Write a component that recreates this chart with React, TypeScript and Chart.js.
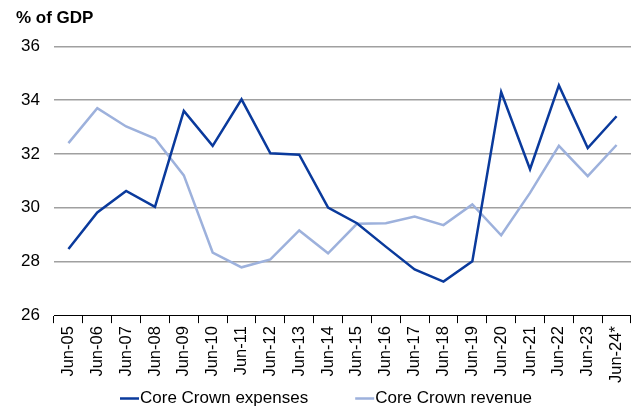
import React, { useEffect, useRef } from "react";
import { Chart, registerables } from "chart.js";

Chart.register(...registerables);

const categories = [
  "Jun-05", "Jun-06", "Jun-07", "Jun-08", "Jun-09", "Jun-10", "Jun-11", "Jun-12", "Jun-13", "Jun-14",
  "Jun-15", "Jun-16", "Jun-17", "Jun-18", "Jun-19", "Jun-20", "Jun-21", "Jun-22", "Jun-23", "Jun-24*",
];
const expenses = [
  28.46, 29.82, 30.62, 30.03, 33.6, 32.3, 34.03, 32.02, 31.97, 30.0,
  29.42, 28.55, 27.7, 27.25, 28.0, 34.3, 31.43, 34.55, 32.22, 33.4,
];
const revenue = [
  32.4, 33.7, 33.02, 32.57, 31.2, 28.33, 27.78, 28.07, 29.15, 28.3,
  29.4, 29.42, 29.67, 29.35, 30.12, 28.97, 30.55, 32.3, 31.17, 32.33,
];
const yTicks = [26, 28, 30, 32, 34, 36];

const FONT = "Liberation Sans, Arial, sans-serif";

const bottomLegend = {
  id: "bottomLegend",
  afterDraw(chart: any) {
    const ctx = chart.ctx;
    const y = 398.5;
    let x = 120;
    ctx.save();
    ctx.font = `17px ${FONT}`;
    ctx.textBaseline = "middle";
    ctx.textAlign = "left";
    chart.data.datasets.forEach((ds: any) => {
      ctx.strokeStyle = ds.borderColor;
      ctx.lineWidth = 2.5;
      ctx.beginPath();
      ctx.moveTo(x, y);
      ctx.lineTo(x + 19, y);
      ctx.stroke();
      x += 20;
      ctx.fillStyle = "#000";
      ctx.fillText(ds.label, x, y);
      x += ctx.measureText(ds.label).width + 47;
    });
    ctx.restore();
  },
};

export default function App() {
  const ref = useRef<HTMLCanvasElement | null>(null);
  useEffect(() => {
    document.body.style.margin = "0";
    const ctx = ref.current!;
    const chart = new Chart(ctx, {
      type: "line",
      data: {
        labels: categories,
        datasets: [
          {
            label: "Core Crown expenses",
            data: expenses,
            borderColor: "#0A3A9C",
            backgroundColor: "#0A3A9C",
            borderWidth: 2.5,
            pointRadius: 0,
            tension: 0,
          },
          {
            label: "Core Crown revenue",
            data: revenue,
            borderColor: "#9DB1DC",
            backgroundColor: "#9DB1DC",
            borderWidth: 2.5,
            pointRadius: 0,
            tension: 0,
          },
        ],
      },
      plugins: [bottomLegend],
      options: {
        animation: false,
        responsive: false,
        layout: { padding: { left: 16, right: 0, top: 0, bottom: 21 } },
        plugins: {
          title: {
            display: true,
            text: "% of GDP",
            align: "start",
            color: "#000",
            font: { family: FONT, size: 17, weight: "bold" },
            padding: { top: 8, bottom: 18 },
          },
          legend: { display: false },
          tooltip: { enabled: false },
        },
        scales: {
          x: {
            offset: true,
            afterFit: (scale: any) => {
              scale.paddingRight = 0;
              scale.paddingLeft = 0;
            },
            grid: {
              offset: true,
              drawOnChartArea: false,
              drawTicks: true,
              tickLength: 8,
              color: "#000",
            },
            border: { display: true, color: "#000", width: 1 },
            ticks: {
              minRotation: 90,
              maxRotation: 90,
              autoSkip: false,
              color: "#000",
              padding: 3,
              font: { family: FONT, size: 16.5 },
            },
          },
          y: {
            min: 26,
            max: 36,
            afterFit: (scale: any) => {
              scale.width = 38;
            },
            afterBuildTicks: (axis: any) => {
              axis.ticks = yTicks.map((v) => ({ value: v }));
            },
            grid: {
              color: (c: any) => (c.tick && c.tick.value === 26 ? "rgba(0,0,0,0)" : "#A0A0A0"),
              lineWidth: 1.5,
              drawTicks: false,
            },
            border: { display: false },
            ticks: {
              color: "#000",
              padding: 14,
              font: { family: FONT, size: 17 },
            },
          },
        },
      },
    });
    return () => chart.destroy();
  }, []);
  return <canvas ref={ref} width={631} height={407} style={{ display: "block" }} />;
}
